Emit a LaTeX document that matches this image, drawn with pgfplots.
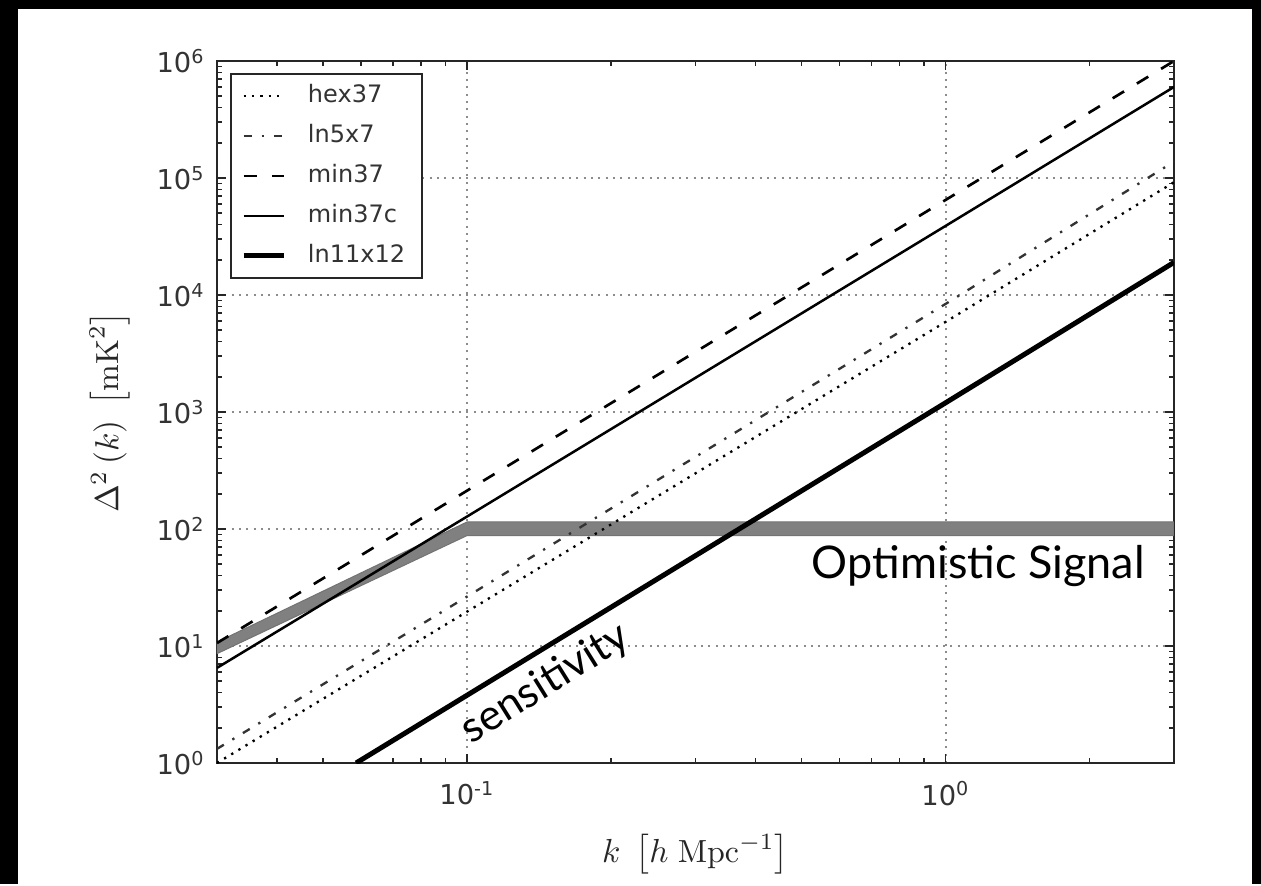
\documentclass[border=0pt]{standalone}
\usepackage{pgfplots}
\pgfplotsset{compat=1.18}
\usepackage{fontspec}
\newfontfamily\dejavu{DejaVu Sans}
\newfontfamily\notefont{Lato}

\begin{document}
\begin{tikzpicture}
% dark frame behind the figure
\fill[black] (0pt,0pt) rectangle (378.3pt,265.2pt);
\fill[white] (5.4pt,0pt) rectangle (375.6pt,262.5pt);
\begin{axis}[
  at={(65.1pt,36.3pt)}, anchor=south west,
  scale only axis, width=287.1pt, height=210.6pt,
  xmode=log, ymode=log,
  xmin=0.03, xmax=3, ymin=1, ymax=1e6,
  xtick={0.1,1},
  xticklabels={10\textsuperscript{-1},10\textsuperscript{0}},
  minor xtick={0.04,0.05,0.06,0.07,0.08,0.09,0.2,0.3,0.4,0.5,0.6,0.7,0.8,0.9,2,3},
  ytick={1,10,100,1000,10000,100000,1000000},
  yticklabels={10\textsuperscript{0},10\textsuperscript{1},10\textsuperscript{2},10\textsuperscript{3},10\textsuperscript{4},10\textsuperscript{5},10\textsuperscript{6}},
  minor ytick={2,3,4,5,6,7,8,9,20,30,40,50,60,70,80,90,200,300,400,500,600,700,800,900,2000,3000,4000,5000,6000,7000,8000,9000,20000,30000,40000,50000,60000,70000,80000,90000,200000,300000,400000,500000,600000,700000,800000,900000},
  tick label style={font=\dejavu\fontsize{8.2}{9}\selectfont, text=black!80},
  xticklabel style={yshift=-2pt},
  tick align=inside,
  major tick length=2.7pt, minor tick length=1.5pt,
  every tick/.style={black!85, line width=0.45pt},
  axis line style={black!85, line width=0.8pt},
  grid=major,
  major grid style={black!45, dash pattern=on 0.6pt off 1.6pt, line width=0.5pt},
  xlabel={$k\;\left[h\;\mathrm{Mpc}^{-1}\right]$},
  ylabel={$\Delta^{2}\left(k\right)\;\left[\mathrm{mK}^{2}\right]$},
  label style={font=\fontsize{9.6}{11}\selectfont, text=black!85},
  xlabel style={at={(axis description cs:0.5,-0.13)}, anchor=center},
  ylabel style={at={(axis description cs:-0.112,0.5)}, anchor=center},
  legend cell align=left,
  legend style={at={(0.0136,0.983)}, anchor=north west,
    draw=black!85, line width=0.6pt,
    font=\dejavu\fontsize{7.2}{8}\selectfont, text=black!80,
    row sep=0pt, inner xsep=3pt, inner ysep=0.6pt,
    nodes={text height=5.6pt, text depth=1.6pt, inner ysep=2.4pt},
    /tikz/every odd column/.style={column sep=4.6pt}},
  legend image code/.code={\draw[#1] (0pt,0pt) -- (12pt,0pt);},
]
% signal band: k^2 rise up to k = 0.1, flat at 100 mK^2 beyond
\addplot[fill=black!50, draw=black!55, line width=0.3pt, forget plot]
  coordinates {(0.03,10.8) (0.1,115) (3,115) (3,88) (0.1,88) (0.03,8.6)} -- cycle;

\addplot[black, line width=0.7pt, dash pattern=on 0.7pt off 1.8pt]
  coordinates {(0.03,1.0) (0.1,19.7) (1,5.9e3) (3,9.2e4)};
\addlegendentry{hex37}

\addplot[black!80, line width=0.7pt, dash pattern=on 2.4pt off 3pt on 0.7pt off 3pt]
  coordinates {(0.03,1.32) (0.1,26.5) (1,8.4e3) (3,1.38e5)};
\addlegendentry{ln5x7}

\addplot[black, line width=0.8pt, dash pattern=on 4pt off 4.5pt]
  coordinates {(0.03,10.6) (0.1,213) (1,6.5e4) (3,1.0e6)};
\addlegendentry{min37}

\addplot[black, line width=0.75pt]
  coordinates {(0.03,6.5) (0.1,128) (1,3.9e4) (3,6.0e5)};
\addlegendentry{min37c}

\addplot[black, line width=1.5pt]
  coordinates {(0.0586,1) (0.1,3.8) (1,1.2e3) (3,1.9e4)};
\addlegendentry{ln11x12}

\node[font=\notefont\fontsize{13.5}{15}\selectfont, anchor=base]
  at (axis cs:1.17,38.1) {Optimistic Signal};
\node[font=\notefont\fontsize{12.8}{15}\selectfont, rotate=32, anchor=base west, inner sep=0pt]
  at (axis cs:0.102,1.43) {sensitivity};
\end{axis}
\end{tikzpicture}
\end{document}
